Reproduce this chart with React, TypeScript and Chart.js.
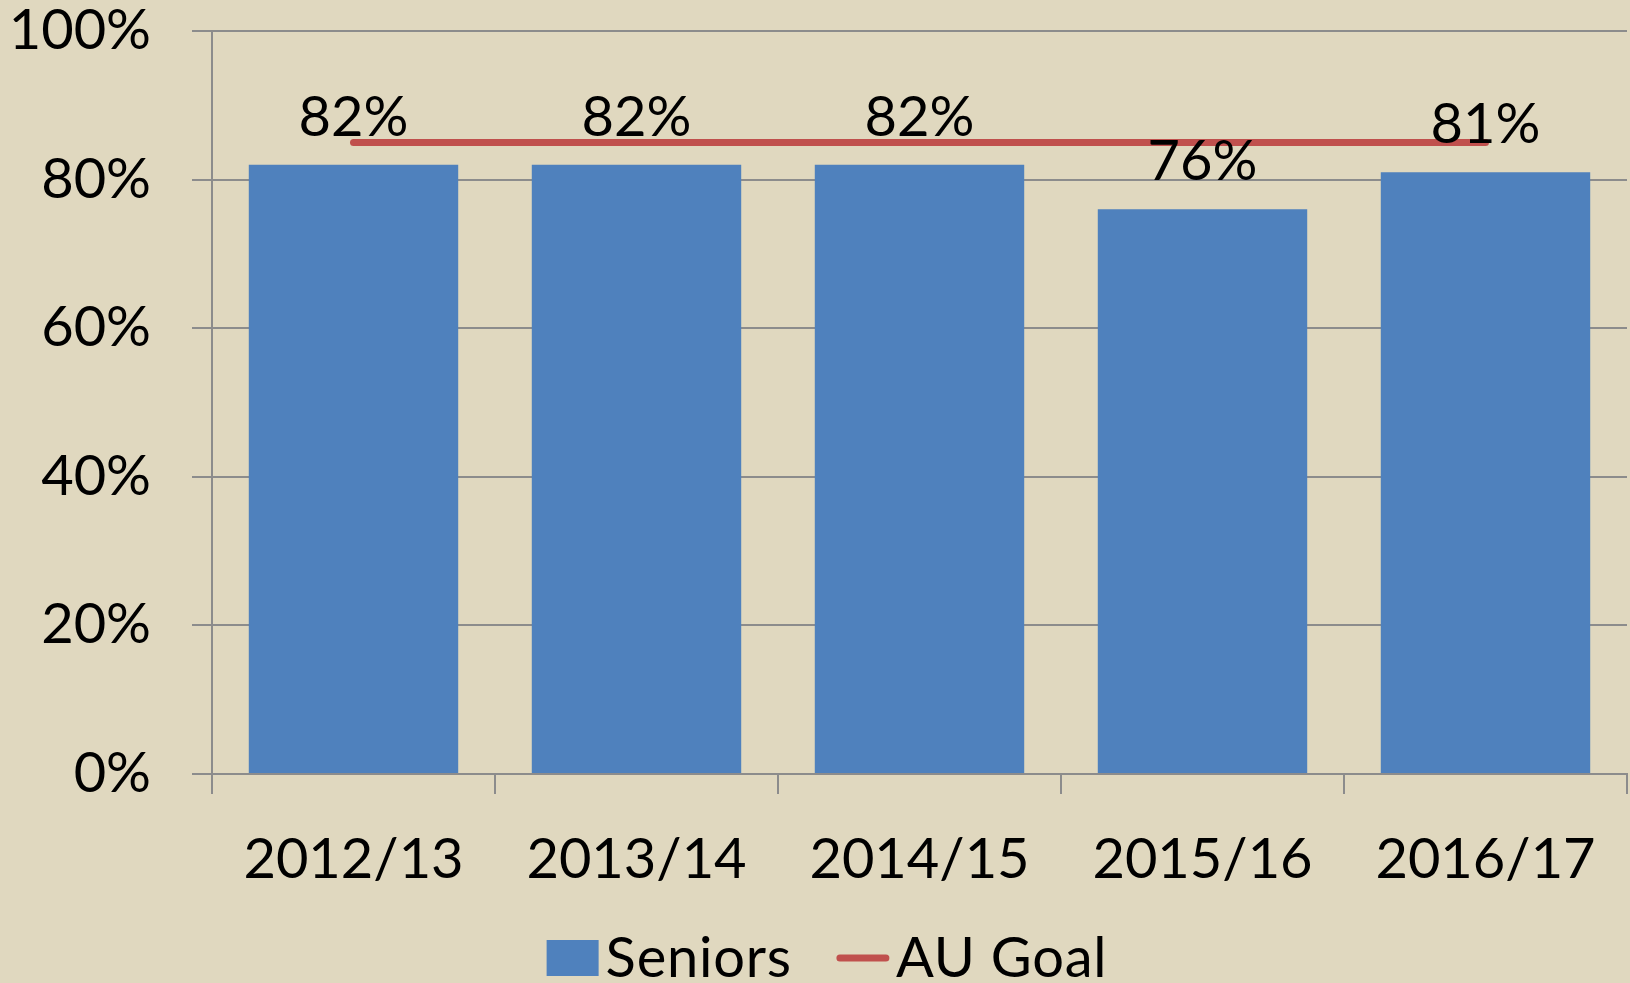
import React, { useEffect, useRef } from "react";
import { Chart, registerables } from "chart.js";

Chart.register(...registerables);

const categories = ["2012/13", "2013/14", "2014/15", "2015/16", "2016/17"];
const seniors = [82, 82, 82, 76, 81];
const auGoal = [85, 85, 85, 85, 85];
const yTickValues = [0, 20, 40, 60, 80, 100];
const yTickLabels = ["0%", "20%", "40%", "60%", "80%", "100%"];
const dataLabels = ["82%", "82%", "82%", "76%", "81%"];

const FONT = "Lato, 'Noto Sans', sans-serif";
const FONT_SIZE = 56;
const BG = "#E0D8BF";
const GRID = "#8C8C8C";
const BAR = "#4F81BD";
const LINE = "#C0504D";

const backgroundPlugin = {
  id: "bgFill",
  beforeDraw(chart: any) {
    const ctx = chart.ctx;
    ctx.save();
    ctx.fillStyle = BG;
    ctx.fillRect(0, 0, chart.width, chart.height);
    ctx.restore();
  },
};

const dataLabelsPlugin = {
  id: "barValueLabels",
  afterDatasetsDraw(chart: any) {
    const ctx = chart.ctx;
    const meta = chart.getDatasetMeta(0);
    ctx.save();
    ctx.font = `${FONT_SIZE}px ${FONT}`;
    ctx.fillStyle = "#000";
    ctx.textAlign = "center";
    ctx.textBaseline = "alphabetic";
    meta.data.forEach((bar: any, i: number) => {
      ctx.fillText(dataLabels[i], bar.x, bar.y - 29);
    });
    ctx.restore();
  },
};

const legendPlugin = {
  id: "customLegend",
  afterDraw(chart: any) {
    const ctx = chart.ctx;
    const ds = chart.data.datasets;
    ctx.save();
    ctx.font = `${FONT_SIZE}px ${FONT}`;
    try {
      (ctx as any).letterSpacing = "0.8px";
    } catch (e) {}
    ctx.textBaseline = "alphabetic";
    ctx.textAlign = "left";
    const boxW = 52;
    const boxH = 36;
    const gapText = 7;
    const gapItems = 45;
    const lineW = 52;
    const t0 = ctx.measureText(ds[0].label).width;
    const t1 = ctx.measureText(ds[1].label).width;
    const total = boxW + gapText + t0 + gapItems + lineW + gapText + t1;
    let x = chart.width / 2 + 12 - total / 2;
    const baseline = chart.height - 6;
    ctx.fillStyle = ds[0].backgroundColor;
    ctx.fillRect(x, baseline - 37, boxW, boxH);
    x += boxW + gapText;
    ctx.fillStyle = "#000";
    ctx.fillText(ds[0].label, x, baseline);
    x += t0 + gapItems;
    ctx.strokeStyle = ds[1].borderColor;
    ctx.lineWidth = 7;
    ctx.lineCap = "round";
    ctx.beginPath();
    ctx.moveTo(x + 3, baseline - 19);
    ctx.lineTo(x + lineW - 3, baseline - 19);
    ctx.stroke();
    x += lineW + gapText;
    ctx.fillStyle = "#000";
    ctx.fillText(ds[1].label, x, baseline);
    ctx.restore();
  },
};

export default function App() {
  const canvasRef = useRef<HTMLCanvasElement>(null);

  useEffect(() => {
    if (!canvasRef.current) return;
    const chart = new Chart(canvasRef.current, {
      type: "bar",
      data: {
        labels: categories,
        datasets: [
          {
            type: "bar",
            label: "Seniors",
            data: seniors,
            backgroundColor: BAR,
            borderWidth: 0,
            barPercentage: 0.74,
            categoryPercentage: 1,
            order: 2,
          },
          {
            type: "line",
            label: "AU Goal",
            data: auGoal,
            borderColor: LINE,
            backgroundColor: LINE,
            borderWidth: 7,
            borderCapStyle: "round",
            pointRadius: 0,
            fill: false,
            tension: 0,
            order: 1,
          },
        ],
      } as any,
      options: {
        animation: false,
        responsive: true,
        maintainAspectRatio: false,
        layout: { padding: { top: 31, right: 3, bottom: 59, left: 0 } },
        plugins: {
          legend: { display: false },
          tooltip: { enabled: false },
        },
        scales: {
          x: {
            grid: {
              display: true,
              drawOnChartArea: false,
              drawTicks: true,
              tickLength: 20,
              color: GRID,
              lineWidth: 2,
              offset: true,
            },
            border: { display: true, color: GRID, width: 2 },
            ticks: {
              font: { family: FONT, size: FONT_SIZE },
              color: "#000",
              padding: 32,
              maxRotation: 0,
              autoSkip: false,
            },
            afterFit: (s: any) => {
              s.height = 150;
              s.paddingLeft = 0;
              s.paddingRight = 0;
            },
          },
          y: {
            min: 0,
            max: 100,
            afterBuildTicks: (s: any) => {
              s.ticks = yTickValues.map((v) => ({ value: v }));
            },
            ticks: {
              callback: (v: any) => yTickLabels[yTickValues.indexOf(Number(v))],
              font: { family: FONT, size: FONT_SIZE, lineHeight: 1 },
              color: "#000",
              padding: 41,
            },
            grid: { color: GRID, lineWidth: 2, tickLength: 20, drawTicks: true },
            border: { display: true, color: GRID, width: 2 },
            afterFit: (s: any) => {
              s.width = 212;
              s.paddingTop = 0;
              s.paddingBottom = 0;
            },
          },
        },
      } as any,
      plugins: [backgroundPlugin, dataLabelsPlugin, legendPlugin],
    });
    return () => chart.destroy();
  }, []);

  return (
    <div
      style={{
        position: "fixed",
        left: 0,
        top: 0,
        width: 1630,
        height: 983,
        background: BG,
      }}
    >
      <canvas ref={canvasRef} />
    </div>
  );
}
